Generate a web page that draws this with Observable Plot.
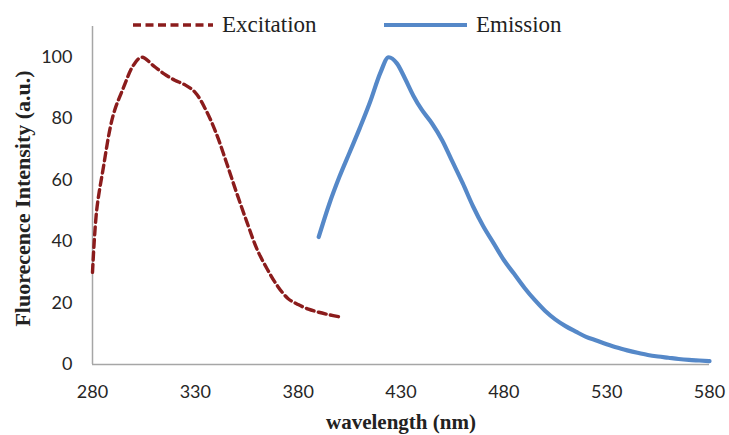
<!DOCTYPE html>
<html>
<head>
<meta charset="utf-8">
<script src="https://cdn.jsdelivr.net/npm/d3@7"></script>
<script src="https://cdn.jsdelivr.net/npm/@observablehq/plot@0.6"></script>
<style>
  html, body { margin: 0; padding: 0; background: #fff; }
  #wrap { position: relative; width: 729px; height: 435px; overflow: hidden; }
  #chart svg { display: block; }
  #legend { position: absolute; left: 0; top: 0; width: 729px; height: 40px; pointer-events: none;
            font-family: "Liberation Serif", "Times New Roman", serif; font-size: 23px; color: #222; }
  .item { position: absolute; top: 12px; display: flex; align-items: center; white-space: nowrap; }
  .item svg { margin-right: 9px; }
</style>
</head>
<body>
<div id="wrap">
  <div id="chart"></div>
  <div id="legend"></div>
</div>
<script>
// Excitation spectrum (wavelength nm, intensity a.u.)
const excitationX = [280, 282, 285, 290, 295, 300, 304, 310, 315, 320, 325, 330, 335, 340, 345, 350, 355, 360, 365, 370, 375, 380, 385, 390, 395, 400];
const excitationY = [30, 50, 63, 81, 90, 97.5, 100, 97, 94.5, 92.5, 91, 88.5, 83, 75.5, 66, 56, 46.5, 37.5, 31, 25.5, 21.5, 19.5, 18, 17, 16.2, 15.5];

// Emission spectrum
const emissionX = [390, 395, 400, 405, 410, 415, 420, 424, 428, 432, 436, 440, 445, 450, 455, 460, 465, 470, 475, 480, 485, 490, 495, 500, 505, 510, 515, 520, 525, 530, 535, 540, 545, 550, 555, 560, 565, 570, 575, 580];
const emissionY = [41.5, 52, 61, 69, 77, 85.5, 95, 100, 98, 93, 87.5, 83, 78.5, 73, 66, 59, 51.5, 45, 39.5, 34, 29.5, 25, 21, 17.5, 14.7, 12.5, 10.7, 9, 7.8, 6.6, 5.5, 4.6, 3.8, 3.1, 2.6, 2.2, 1.8, 1.5, 1.3, 1.1];

const xTicks = [280, 330, 380, 430, 480, 530, 580];
const yTicks = [0, 20, 40, 60, 80, 100];

const seriesNames = ["Excitation", "Emission"];
const seriesColors = ["#8b1c1c", "#5588c8"];

const excitation = excitationX.map((x, i) => ({x, y: excitationY[i]}));
const emission = emissionX.map((x, i) => ({x, y: emissionY[i]}));

const axisColor = "#a6a6a6";
const tickFont = "Lato, 'Open Sans', sans-serif";
const serif = "'Liberation Serif', 'Times New Roman', serif";

const chart = Plot.plot({
  width: 729,
  height: 435,
  marginLeft: 92,
  marginRight: 20,
  marginTop: 26,
  marginBottom: 71,
  style: {background: "#fff", overflow: "visible"},
  x: {domain: [280, 580]},
  y: {domain: [0, 110]},
  marks: [
    Plot.ruleY([0], {stroke: axisColor, strokeWidth: 1.5}),
    Plot.ruleX([280], {y1: 0, y2: 110, stroke: axisColor, strokeWidth: 1.5}),
    Plot.axisX(xTicks, {tickSize: 0, tickPadding: 21, fontSize: 18, fontFamily: tickFont, fill: "#262626", label: null}),
    Plot.axisY(yTicks, {tickSize: 0, tickPadding: 20, fontSize: 18, fontFamily: tickFont, fill: "#262626", label: null}),
    Plot.line(excitation, {x: "x", y: "y", curve: "catmull-rom", stroke: seriesColors[0], strokeWidth: 3.4, strokeDasharray: "8,4.5"}),
    Plot.line(emission, {x: "x", y: "y", curve: "monotone-x", stroke: seriesColors[1], strokeWidth: 4.2, strokeLinecap: "round", strokeLinejoin: "round"}),
    Plot.text(["wavelength (nm)"], {frameAnchor: "bottom", dy: 64, textAnchor: "middle", lineAnchor: "bottom", fontSize: 21, fontWeight: "bold", fontFamily: serif, fill: "#222"}),
    Plot.text(["Fluorecence Intensity (a.u.)"], {frameAnchor: "left", dx: -70, dy: 3, rotate: -90, textAnchor: "middle", lineAnchor: "middle", fontSize: 22, fontWeight: "bold", fontFamily: serif, fill: "#222"})
  ]
});
document.getElementById("chart").appendChild(chart);

// Legend (HTML overlay)
const legend = document.getElementById("legend");
const legendLeft = [133, 384];
const swatchW = [80, 83];
seriesNames.forEach((name, i) => {
  const item = document.createElement("div");
  item.className = "item";
  item.style.left = legendLeft[i] + "px";
  const dash = i === 0 ? 'stroke-dasharray="8,4.5"' : '';
  item.innerHTML = `<svg width="${swatchW[i]}" height="8"><line x1="0" x2="${swatchW[i]}" y1="4" y2="4" stroke="${seriesColors[i]}" stroke-width="${i === 0 ? 3.4 : 4}" ${dash}/></svg><span>${name}</span>`;
  legend.appendChild(item);
});
</script>
</body>
</html>
